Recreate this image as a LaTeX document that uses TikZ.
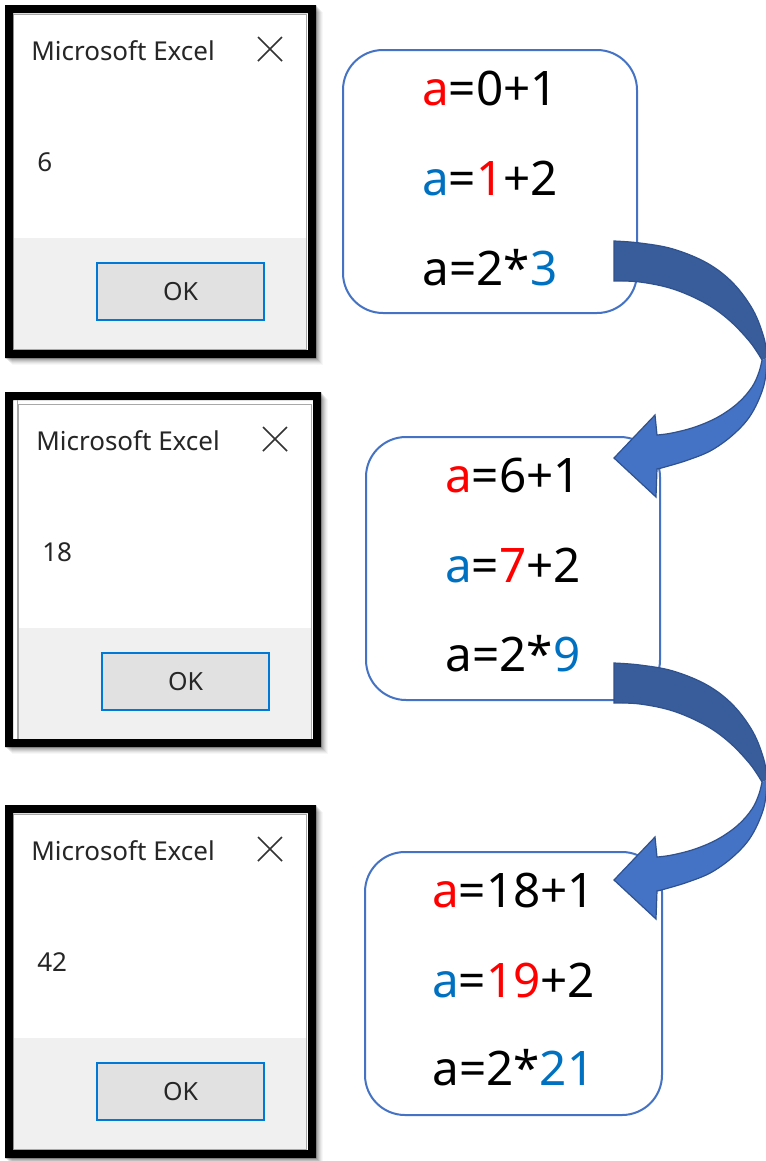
\documentclass[tikz,border=0pt]{standalone}
\usepackage{fontspec}
\setmainfont{Noto Sans}
\usetikzlibrary{calc}

\definecolor{eqred}{HTML}{FF0000}
\definecolor{eqblue}{HTML}{0070C0}
\definecolor{boxline}{HTML}{4472C4}
\definecolor{arrowdark}{HTML}{385D9A}
\definecolor{arrowlight}{HTML}{4472C4}
\definecolor{arrowedge}{HTML}{2F528F}
\definecolor{okfill}{HTML}{E1E1E1}
\definecolor{okline}{HTML}{0078D7}
\definecolor{dlgfooter}{HTML}{F0F0F0}
\definecolor{dlgedge}{HTML}{A8A8A8}

\newcommand\eqR[1]{\textcolor{eqred}{#1}}
\newcommand\eqB[1]{\textcolor{eqblue}{#1}}

% message dialog: name, outer frame x1 y1 x2 y2, content shift dx dy, value
\newcommand\msgdialog[8]{%
  \foreach \k/\o in {1/0.12,2/0.10,3/0.08,4/0.07,5/0.05,6/0.04,7/0.03}
    \fill[black,opacity=\o] ($(#2,#3)+(\k,\k)$) rectangle ($(#4,#5)+(\k,\k)$);
  \fill[white] (#2,#3) rectangle (#4,#5);
  \begin{scope}[shift={(#6,#7)}]
    \fill[dlgfooter] (13,238) rectangle (307,350);
    \draw[dlgedge,line width=0.6pt] (13.5,14.5) rectangle (306.5,349.5);
    \node[dlgtitle] (#1title) at (31,60) {Microsoft Excel};
    \draw[closex] (258,37) -- (282,61) (258,61) -- (282,37);
    \node[dlgvalue] (#1value) at (37,171) {#8};
    \node[okbtn] (#1ok) at (180.5,291.5) {OK};
  \end{scope}
  \fill[black,even odd rule] (#2,#3) rectangle (#4,#5)
    ($(#2,#3)+(8,8)$) rectangle ($(#4,#5)+(-8,-8)$);
}

% edges of the curved arrow band
\def\upperouter{(614,241) (640,243) (673,249) (707,263) (733,283) (753,310) (764,338) (767,358)}
\def\lowerouter{(767,358) (764,385) (752,413) (735,433) (712,450) (688,460) (665,467) (657,469)}
\def\lowerinner{(657,435) (672,433) (695,427) (718,417) (738,403) (752,387) (759,372) (762,360)}
\def\upperinner{(762,360) (750,342) (729,320) (705,303) (673,289) (640,282) (614,281)}

% curved blue arrow (darker back band, lighter front band with head), shifted down by #2
\newcommand\bluearrow[2]{%
  \begin{scope}[shift={(0,#2)}]
    \coordinate (#1tail) at (614,241);
    \coordinate (#1tip) at (614,458);
    \fill[arrowdark] (#1tail)
      -- plot[smooth,tension=0.6] coordinates {\upperouter}
      -- plot[smooth,tension=0.6] coordinates {\upperinner}
      -- cycle;
    \fill[arrowlight] (767,358)
      -- plot[smooth,tension=0.6] coordinates {\lowerouter}
      -- (656,497) -- (#1tip) -- (655,415) -- (657,435)
      -- plot[smooth,tension=0.6] coordinates {\lowerinner}
      -- cycle;
    \draw[arrowedge,line width=0.9pt,line join=miter] (#1tail)
      -- plot[smooth,tension=0.6] coordinates {\upperouter}
      -- plot[smooth,tension=0.6] coordinates {\lowerouter}
      -- (656,497) -- (#1tip) -- (655,415) -- (657,435)
      -- plot[smooth,tension=0.6] coordinates {\lowerinner}
      -- plot[smooth,tension=0.6] coordinates {\upperinner}
      -- cycle;
  \end{scope}
}

\begin{document}
\begin{tikzpicture}[x=0.75pt,y=-0.75pt,
  dlgtitle/.style={anchor=base west,inner sep=0pt,font=\fontsize{19.5pt}{20pt}\selectfont,text=black!85},
  dlgvalue/.style={anchor=base west,inner sep=0pt,font=\fontsize{19.5pt}{20pt}\selectfont,text=black!85},
  closex/.style={draw=black!80,line width=1.1pt},
  okbtn/.style={draw=okline,fill=okfill,line width=1.5pt,minimum width=125.25pt,minimum height=42.75pt,
    inner sep=0pt,font=\fontsize{18.75pt}{19pt}\selectfont,text=black!85},
  eqbox/.style={draw=boxline,line width=1.5pt,rounded corners=30pt,fill=white,minimum height=197.25pt},
  eqline/.style={anchor=base,inner sep=0pt,font=\fontsize{35.7pt}{36pt}\selectfont}]

\fill[white] (0,0) rectangle (765,1161);
\useasboundingbox (0,0) rectangle (765,1161);

% the three message boxes
\msgdialog{dA}{5}{5}{316}{358}{0}{0}{6}
\msgdialog{dB}{5}{392}{321}{747}{5}{390}{18}
\draw[dlgedge,line width=0.6pt] (17.5,400) -- (17.5,739);
\msgdialog{dC}{5}{805}{316}{1158}{0}{800}{42}

% the three calculation boxes
\node[eqbox,minimum width=220.5pt] (bA) at (490,181.5) {};
\node[eqbox,minimum width=220.5pt] (bB) at (513,568.5) {};
\node[eqbox,minimum width=222.75pt] (bC) at (513.5,983.5) {};

\node[eqline] (bA1) at (490,105) {\eqR{a}=0+1};
\node[eqline] (bA2) at (490,195) {\eqB{a}=\eqR{1}+2};
\node[eqline] (bA3) at (490,285) {a=2*\eqB{3}};

\node[eqline] (bB1) at (513,492) {\eqR{a}=6+1};
\node[eqline] (bB2) at (513,582) {\eqB{a}=\eqR{7}+2};
\node[eqline] (bB3) at (513,671) {a=2*\eqB{9}};

\node[eqline] (bC1) at (513.5,907) {\eqR{a}=18+1};
\node[eqline] (bC2) at (513.5,997) {\eqB{a}=\eqR{19}+2};
\node[eqline] (bC3) at (513.5,1085) {a=2*\eqB{21}};

% arrows carrying each result into the next box
\bluearrow{arA}{0}
\bluearrow{arB}{422}

\end{tikzpicture}
\end{document}
